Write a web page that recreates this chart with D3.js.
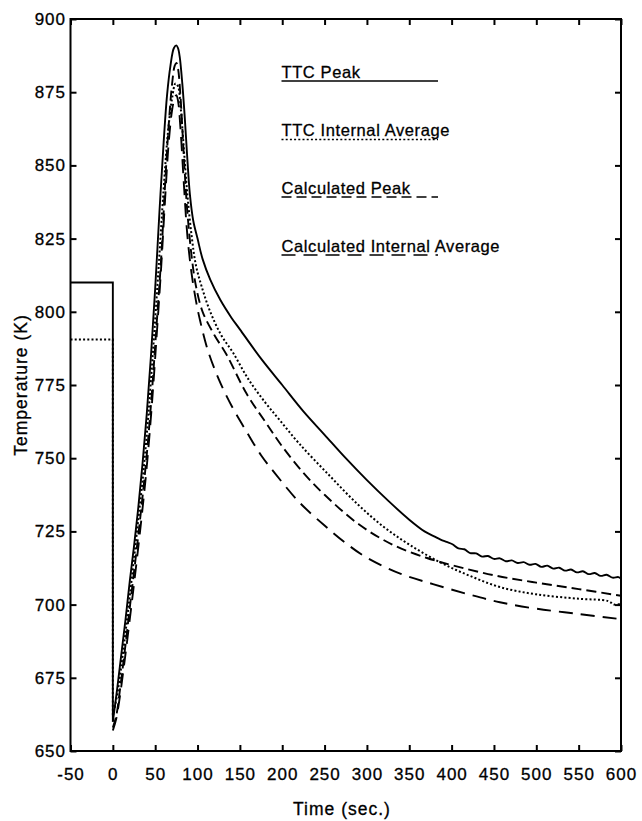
<!DOCTYPE html>
<html>
<head>
<meta charset="utf-8">
<script src="https://cdn.jsdelivr.net/npm/d3@7"></script>
<style>
  body { margin: 0; background: #fff; }
  text { font-family: "Liberation Sans", Arial, Helvetica, sans-serif; fill: #000; stroke: #000; stroke-width: 0.3px; }
</style>
</head>
<body>
<div id="chart"></div>
<script>

// tick values
var xTicks = [-50, 0, 50, 100, 150, 200, 250, 300, 350, 400, 450, 500, 550, 600]
var yTicks = [650, 675, 700, 725, 750, 775, 800, 825, 850, 875, 900]

// series names (legend order)
var seriesNames = ["TTC Peak", "TTC Internal Average", "Calculated Peak", "Calculated Internal Average"]

// initial hold before t = 0, [time, temperature]
var ttcPeakHold = [[-50, 810], [0, 810], [0, 660]]
var ttcAvgHold = [[-50, 790.5], [0, 790.5], [0, 662]]

// TTC Peak  [time (s), temperature (K)]
var ttcPeak = [
  [0, 660], [5, 671], [10, 683], [15, 695], [20, 708], [25, 720], [30, 733], [35, 748],
  [40, 765], [45, 785], [50, 808], [55, 834], [60, 858], [64, 874], [68, 884], [72, 890],
  [75, 891], [77, 890], [79, 887], [82, 878], [85, 866], [88, 852], [91, 840], [95, 831],
  [100, 825], [106, 818], [115, 811], [127, 804], [140, 798], [150, 794], [175, 784],
  [200, 775], [225, 766], [250, 758], [275, 750], [300, 742.5], [325, 735.5], [350, 729],
  [368, 725], [380, 723.2], [387, 722.2], [394, 721.4], [401, 720.6], [408, 719.2], [415, 718.9],
  [422, 717.6], [429, 717.5], [436, 716.4], [443, 716.6], [450, 715.6], [457, 715.8], [464, 714.8],
  [471, 715.1], [478, 714.2], [485, 714.5], [492, 713.6], [499, 713.9], [506, 712.9], [513, 713.3],
  [520, 712.3], [527, 712.6], [534, 711.6], [541, 712.0], [548, 711.0], [555, 711.4], [562, 710.4],
  [569, 710.8], [576, 709.8], [583, 710.2], [590, 709.2], [597, 709.4], [600, 708.9]
]

// TTC Internal Average
var ttcAvg = [
  [0, 662], [5, 669], [10, 679], [20, 703], [30, 729], [36, 745], [42, 765], [48, 789],
  [54, 815], [60, 842], [65, 861], [70, 873], [74, 878], [77, 877], [80, 870], [84, 855],
  [88, 840], [93, 826], [98, 816], [105, 808.5], [115, 800], [128, 792], [142, 786],
  [160, 777], [180, 769], [197, 763], [220, 755], [256, 744], [290, 734], [320, 726.5],
  [350, 720.5], [386, 714.5], [420, 710], [457, 706], [500, 703.5], [550, 702], [585, 701.2],
  [592, 700], [600, 700.3]
]

// Calculated Peak
var calcPeak = [
  [0, 658], [4, 662], [8, 670], [14, 684], [20, 699], [27, 716], [34, 734], [40, 751],
  [46, 772], [52, 797], [57, 818], [62, 845], [66, 864], [70, 878], [73, 884], [75, 885],
  [77, 883], [80, 873], [84, 852], [88, 834], [93, 819], [98, 809], [106, 800], [120, 792],
  [134, 785.5], [158, 772], [181, 762], [200, 754], [225, 745], [250, 737.5], [290, 727.5],
  [330, 720.5], [370, 716], [400, 713.5], [450, 710], [500, 707.5], [550, 705.3], [600, 703]
]

// Calculated Internal Average
var calcAvg = [
  [0, 657], [4, 661], [8, 668], [14, 681], [20, 695], [27, 712], [34, 730], [40, 747],
  [46, 768], [52, 793], [57, 815], [62, 840], [66, 858], [70, 869], [73, 873], [75, 874],
  [77, 872], [80, 862], [84, 843], [88, 826], [93, 813], [98, 804], [103, 797], [112, 787],
  [125, 777], [140, 768], [158, 759], [175, 751], [191, 745], [220, 735], [250, 727],
  [275, 721], [300, 716], [340, 710.5], [378, 707], [420, 703.5], [457, 700.8], [500, 698.6],
  [550, 696.8], [600, 695]
]

var width = 642, height = 821
var margin = {top: 19, right: 21, bottom: 70, left: 70.5}

var svg = d3.select("#chart")
  .append("svg")
  .attr("width", width)
  .attr("height", height)

var x = d3.scaleLinear().domain([-50, 600]).range([margin.left, width - margin.right])
var y = d3.scaleLinear().domain([650, 900]).range([height - margin.bottom, margin.top])

/* clip lines to the frame */
svg.append("clipPath")
  .attr("id", "plot-clip")
  .append("rect")
  .attr("x", x(-50))
  .attr("y", y(900))
  .attr("width", x(600) - x(-50))
  .attr("height", y(650) - y(900))

var styles = [
  {dash: null, width: 1.9},
  {dash: "2,2.2", width: 2},
  {dash: "10,5", width: 1.9},
  {dash: "14,8", width: 1.9}
]

var lineLinear = d3.line()
  .x(function(d) { return x(d[0]) })
  .y(function(d) { return y(d[1]) })

var lineSmooth = d3.line()
  .x(function(d) { return x(d[0]) })
  .y(function(d) { return y(d[1]) })
  .curve(d3.curveCatmullRom.alpha(0.5))

var plot = svg.append("g").attr("clip-path", "url(#plot-clip)")

var series = [ttcPeak, ttcAvg, calcPeak, calcAvg]
var holds = [ttcPeakHold, ttcAvgHold, null, null]

for (var i = 0; i < series.length; i++) {
  if (holds[i]) {
    plot.append("path")
      .datum(holds[i])
      .attr("d", lineLinear)
      .attr("fill", "none")
      .attr("stroke", "#000")
      .attr("stroke-width", styles[i].width)
      .attr("stroke-dasharray", styles[i].dash)
  }
  plot.append("path")
    .datum(series[i])
    .attr("d", lineSmooth)
    .attr("fill", "none")
    .attr("stroke", "#000")
    .attr("stroke-width", styles[i].width)
    .attr("stroke-dasharray", styles[i].dash)
    .attr("stroke-linejoin", "round")
}

/* axes, ticks pointing inward */
var fontSize = "17px"
var plain = function(d) { return String(d) }   // hyphen, not the unicode minus

var xAxis = svg.append("g")
  .attr("transform", "translate(0," + y(650) + ")")
  .call(d3.axisBottom(x).tickValues(xTicks).tickFormat(plain).tickSizeInner(-6).tickSizeOuter(0).tickPadding(17))
xAxis.select(".domain").remove()
xAxis.selectAll("text").style("font-size", fontSize).style("letter-spacing", "1px")

var xTop = svg.append("g")
  .attr("transform", "translate(0," + y(900) + ")")
  .call(d3.axisTop(x).tickValues(xTicks).tickSizeInner(-6).tickSizeOuter(0).tickFormat(""))
xTop.select(".domain").remove()

var yAxis = svg.append("g")
  .attr("transform", "translate(" + x(-50) + ",0)")
  .call(d3.axisLeft(y).tickValues(yTicks).tickFormat(plain).tickSizeInner(-6).tickSizeOuter(0).tickPadding(4.5))
yAxis.select(".domain").remove()
yAxis.selectAll("text").style("font-size", fontSize).style("letter-spacing", "1px")

var yRight = svg.append("g")
  .attr("transform", "translate(" + x(600) + ",0)")
  .call(d3.axisRight(y).tickValues(yTicks).tickSizeInner(-6).tickSizeOuter(0).tickFormat(""))
yRight.select(".domain").remove()

svg.selectAll(".tick line").attr("stroke", "#000").attr("stroke-width", 2)

svg.append("rect")
  .attr("x", x(-50))
  .attr("y", y(900))
  .attr("width", x(600) - x(-50))
  .attr("height", y(650) - y(900))
  .attr("fill", "none")
  .attr("stroke", "#000")
  .attr("stroke-width", 2)

/* axis titles */
svg.append("text")
  .attr("x", 342)
  .attr("y", 815)
  .attr("text-anchor", "middle")
  .style("font-size", "17.5px")
  .style("letter-spacing", "1px")
  .text("Time (sec.)")

svg.append("text")
  .attr("transform", "translate(27," + (y(650) + y(900)) / 2 + ") rotate(-90)")
  .attr("text-anchor", "middle")
  .style("font-size", "17.5px")
  .style("letter-spacing", "1px")
  .text("Temperature (K)")

/* legend: labels underlined with each series' line style */
var legendX = 281.5
var legendEnd = 438
var legendY = [77.5, 136, 193.5, 251.5]

for (var j = 0; j < seriesNames.length; j++) {
  svg.append("text")
    .attr("x", legendX)
    .attr("y", legendY[j])
    .style("font-size", "16.5px")
    .style("letter-spacing", "0.6px")
    .text(seriesNames[j])

  svg.append("line")
    .attr("x1", legendX)
    .attr("x2", legendEnd)
    .attr("y1", legendY[j] + 3.5)
    .attr("y2", legendY[j] + 3.5)
    .attr("stroke", "#000")
    .attr("stroke-width", 1.6)
    .attr("stroke-dasharray", styles[j].dash)
}

</script>
</body>
</html>
